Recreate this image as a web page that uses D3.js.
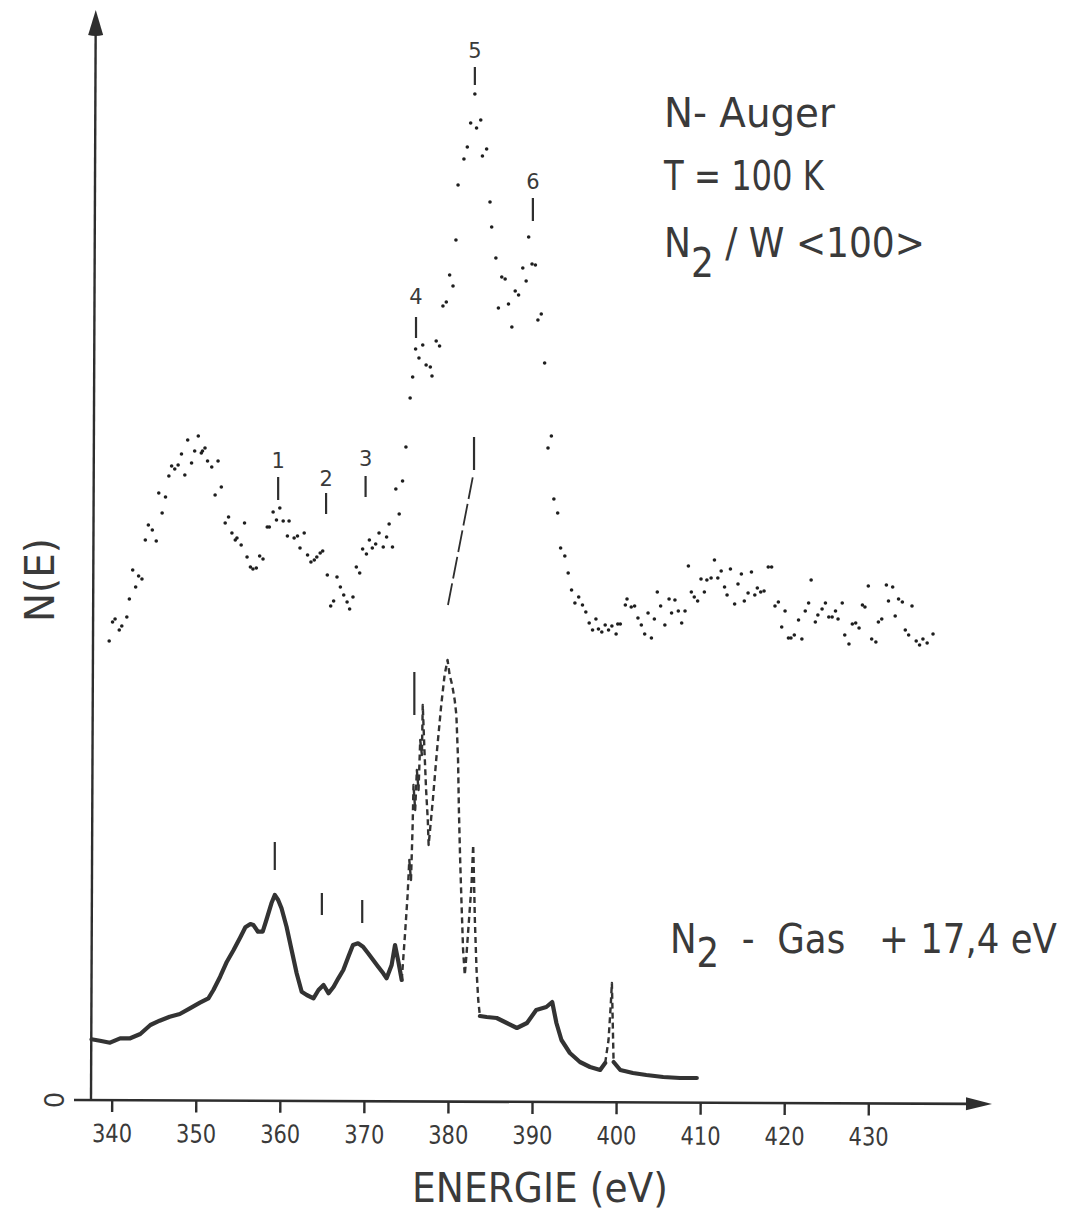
<!DOCTYPE html>
<html><head><meta charset="utf-8">
<script src="https://cdn.jsdelivr.net/npm/d3@7"></script>
<style>body{margin:0;background:#fff}svg{display:block}text{white-space:pre}</style>
</head><body>
<svg id="c" width="1069" height="1212"></svg>
<script>
// ---------- data (energies in eV, N(E) in arbitrary units) ----------
const xTicks = [340, 350, 360, 370, 380, 390, 400, 410, 420, 430];

// N2 adsorbed on W<100>, T = 100 K (dotted spectrum)
const upperE = [339.7,340.1,340.4,340.9,341.2,341.8,342.1,342.5,342.85,343.2,343.6,344.0,344.36,344.83,345.3,345.6,346.0,346.4,346.8,347.13,347.5,347.9,348.3,348.7,349.04,349.5,349.87,350.3,350.66,350.8,351.1,351.4,351.9,352.3,352.65,353.04,353.5,353.9,354.3,354.7,354.9,355.4,355.8,356.1,356.5,356.8,357.2,357.6,358.0,358.5,358.75,359.2,359.6,360.0,360.4,360.9,361.1,361.7,362.1,362.4,362.9,363.3,363.7,364.1,364.4,364.8,365.1,365.65,366.05,366.4,366.8,367.2,367.6,368.0,368.3,368.7,369.1,369.5,369.85,370.3,370.65,371.0,371.4,371.8,372.3,372.7,373.0,373.4,373.8,374.2,374.6,375.0,
375.5,375.8,376.15,376.55,377.0,377.4,377.9,378.1,378.6,379.0,379.4,379.8,380.2,380.6,380.95,381.2,381.9,382.3,382.7,383.2,383.4,383.9,384.1,384.6,385.0,385.2,385.7,386.0,386.4,386.8,387.2,387.6,388.0,388.4,388.9,389.3,389.6,390.0,390.4,390.7,391.1,391.5,
391.9,392.3,392.6,393.05,393.4,393.9,394.3,394.7,395.1,395.55,396.0,396.4,396.8,397.2,397.6,397.9,398.3,398.7,399.1,399.5,400.0,400.2,400.5,401.1,401.3,401.8,402.2,402.6,403.0,403.4,403.8,404.2,404.55,404.9,405.3,405.8,406.3,406.6,407.0,407.4,407.8,408.2,408.6,408.95,409.3,409.7,410.1,410.5,410.8,411.3,411.7,412.1,412.5,412.9,413.2,413.6,414.1,414.5,414.9,415.25,415.7,416.1,416.5,416.8,417.2,417.6,418.1,418.5,418.9,419.3,419.7,420.1,420.5,420.8,421.2,421.7,422.1,422.5,422.9,423.2,423.7,424.0,424.5,424.9,425.3,425.7,426.1,426.4,426.9,427.2,427.7,428.1,428.5,428.9,429.3,429.6,430.0,430.4,430.9,431.2,431.6,432.15,432.4,432.9,433.2,433.6,434.05,434.4,434.8,435.2,435.7,436.1,436.5,437.0,437.7];
const upperV = [45.9,47.8,48.1,47.0,47.4,48.3,50.1,53.0,51.3,52.4,52.1,56.0,57.5,57.0,55.9,60.7,58.7,60.3,62.4,63.4,63.1,63.5,64.6,62.5,66.0,63.7,64.9,66.4,64.7,64.9,65.2,63.9,63.3,60.5,63.9,61.3,57.7,58.3,56.7,56.0,56.2,55.5,57.7,54.3,53.3,53.1,53.2,54.4,54.1,57.3,57.3,58.8,58.0,59.2,57.9,56.4,57.9,56.2,56.4,55.2,56.7,54.5,53.8,54.0,54.3,54.7,54.9,52.5,49.4,49.9,52.3,51.3,50.5,49.8,49.1,50.3,53.3,52.7,55.1,54.6,56.0,55.2,55.6,56.7,55.3,56.3,57.6,55.3,61.1,58.6,61.9,65.3,
70.2,72.3,75.1,74.2,75.5,73.5,73.3,72.4,75.9,75.4,79.4,79.8,82.5,81.4,86.0,91.5,94.1,95.3,97.7,100.6,97.2,98.0,94.4,95.1,89.8,87.3,84.2,79.2,82.3,82.1,79.6,77.3,80.9,80.5,83.2,81.9,86.3,83.6,83.5,78.0,78.6,73.7,
65.2,66.4,60.1,58.7,55.2,54.4,52.7,51.0,49.7,50.3,49.5,48.8,47.7,47.0,48.1,47.1,46.8,47.5,47.0,47.4,46.6,47.6,47.6,49.5,50.1,49.3,49.4,48.2,47.5,46.6,48.7,46.2,48.1,50.8,49.4,47.5,50.1,48.7,50.0,48.9,47.7,48.9,53.4,50.8,50.3,49.9,52.1,50.8,52.0,52.2,54.0,52.2,52.9,51.3,50.5,53.1,49.6,51.6,52.6,49.9,50.7,52.8,50.5,51.2,50.8,50.9,53.3,53.3,49.4,49.8,47.3,48.9,46.2,46.2,46.5,48.0,46.1,48.9,49.7,52.0,47.8,48.5,49.1,49.7,48.3,48.3,48.9,48.1,49.7,46.5,45.6,47.6,47.7,47.2,49.5,49.3,51.4,46.1,45.8,47.8,48.1,51.5,49.9,51.3,48.4,50.1,49.8,47.0,46.5,49.4,45.9,45.5,46.1,45.7,46.6];

// N2 gas phase spectrum, shifted by +17.4 eV (continuous trace)
const gasE = [337.6,338.6,339.8,341.0,342.2,343.4,344.6,345.7,346.9,348.1,349.3,350.5,351.5,352.1,352.9,353.7,354.5,355.3,355.9,356.5,356.85,357.4,357.96,358.4,359.0,359.4,359.8,360.2,360.8,361.4,362.0,362.6,363.2,364.0,364.6,365.2,365.8,366.4,366.96,367.55,368.15,368.7,369.3,369.9,370.5,371.1,371.7,372.3,372.7,373.3,373.7,374.1,374.5,
374.9,375.2,375.4,375.6,375.8,375.9,376.1,376.3,376.5,376.7,376.9,377.0,377.2,377.4,377.6,377.7,378.2,378.7,379.2,379.6,379.95,380.2,380.5,380.8,381.0,381.2,381.3,381.45,381.6,381.8,382.0,382.2,382.5,382.8,383.0,383.1,383.2,383.4,383.6,383.8,
384.6,385.8,387.0,388.2,389.4,390.5,391.7,392.4,392.9,393.5,394.5,395.7,396.9,398.1,398.7,399.1,399.35,399.5,399.7,400.5,402.0,403.6,405.6,407.6,409.6];
const gasV = [6.07,5.93,5.73,6.17,6.17,6.6,7.5,7.93,8.33,8.6,9.17,9.73,10.17,11.0,12.33,13.83,15.0,16.27,17.27,17.6,17.5,16.83,16.83,18.0,19.67,20.5,20.0,19.17,17.33,15.0,12.67,10.83,10.5,10.17,11.0,11.5,10.67,11.33,12.17,13.0,14.33,15.5,15.67,15.33,14.67,14.0,13.33,12.67,12.17,13.5,15.5,13.83,12.0,
16.7,20.5,24.0,22.0,27.5,31.5,29.0,33.0,31.0,36.0,34.5,39.5,35.0,31.0,28.0,25.5,30.0,35.0,39.5,42.5,44.0,42.5,41.5,40.0,38.5,34.0,29.0,24.0,20.0,15.0,12.5,14.5,18.0,21.5,25.5,22.0,18.0,13.0,10.0,8.4,
8.3,8.2,7.7,7.2,7.7,9.0,9.3,9.8,7.7,6.0,4.7,3.8,3.3,3.0,3.7,6.0,9.3,11.7,3.8,3.0,2.7,2.5,2.3,2.2,2.2];
const gasDashed = [[374.5, 383.8], [398.7, 399.7]];

// peak markers on the adsorbate spectrum
const peakNames = ["1", "2", "3", "4", "5", "6"];
const peakE = [359.8, 365.5, 370.2, 376.2, 383.2, 390.1];
const peakTickLow = [60.0, 58.6, 60.3, 76.2, 101.5, 87.9];
const peakTickHigh = [62.3, 60.7, 62.4, 78.3, 103.3, 90.2];
const peakLabelV = [63.2, 61.4, 63.4, 79.6, 104.2, 91.1];

// markers on the gas spectrum
const gasMarkE = [359.4, 365.0, 369.8, 376.0];
const gasMarkLow = [23.0, 18.5, 17.7, 38.5];
const gasMarkHigh = [25.8, 20.7, 20.0, 42.8];

// connection gas main peak -> adsorbate main peak
const shiftE = [380.0, 383.0];
const shiftV = [49.5, 62.5];
const shiftTickE = 383.1, shiftTickV = [63.0, 66.3];

// ---------- drawing ----------
const INK = "#2e2e2e", TXT = "#3a3a3a";
const FONT = "'DejaVu Sans', 'Liberation Sans', sans-serif";
const svg = d3.select("#c");
svg.append("rect").attr("width", 1069).attr("height", 1212).attr("fill", "#fff");

const x = d3.scaleLinear().domain([340, 430]).range([111.7, 868.3]);
const y = d3.scaleLinear().domain([0, 109]).range([1100, 10]);
const x0 = 91, y0 = y(0);

// axes (scanned original is very slightly rotated)
const ax = svg.append("g").attr("transform", `rotate(0.25, ${x0}, ${y0})`);
const xAxis = d3.axisBottom(x).tickValues(xTicks).tickSize(12).tickSizeOuter(0).tickFormat(d3.format("d"));
const gx = ax.append("g").attr("transform", `translate(0,${y0})`).call(xAxis);
gx.select(".domain").remove();
gx.selectAll(".tick line").attr("stroke", INK).attr("stroke-width", 2.4);
gx.selectAll(".tick text")
  .attr("fill", TXT).attr("font-family", FONT).attr("font-size", 25)
  .attr("y", 42).attr("dy", 0).attr("text-anchor", "start").attr("x", -20)
  .attr("textLength", 40).attr("lengthAdjust", "spacingAndGlyphs");

ax.append("line").attr("x1", 74).attr("x2", 970).attr("y1", y0).attr("y2", y0)
  .attr("stroke", INK).attr("stroke-width", 2.6);
ax.append("path").attr("d", `M992,${y0} L966,${y0 - 6.5} L966,${y0 + 6.5} Z`).attr("fill", INK);
ax.append("line").attr("x1", x0).attr("x2", x0).attr("y1", y0).attr("y2", 32)
  .attr("stroke", INK).attr("stroke-width", 2.4);
ax.append("path").attr("d", `M${x0},10 L${x0 - 7.5},35 Q${x0},37 ${x0 + 7.5},35 Z`).attr("fill", INK);

// "0" at origin (rotated)
svg.append("text").attr("transform", `translate(55,${y0}) rotate(-90)`)
  .attr("text-anchor", "middle").attr("dy", "0.36em")
  .attr("font-family", FONT).attr("font-size", 26).attr("fill", TXT).text("0");

// axis titles
svg.append("text").attr("x", 412).attr("y", 1202)
  .attr("textLength", 256).attr("lengthAdjust", "spacingAndGlyphs")
  .attr("font-family", FONT).attr("font-size", 41).attr("fill", TXT).text("ENERGIE (eV)");
svg.append("text").attr("transform", "translate(54,622) rotate(-90)")
  .attr("textLength", 84).attr("lengthAdjust", "spacingAndGlyphs")
  .attr("font-family", FONT).attr("font-size", 40).attr("fill", TXT).text("N(E)");

// adsorbate dotted spectrum
svg.append("g").selectAll("circle").data(upperE.map((e, i) => [e, upperV[i]]))
  .join("circle").attr("cx", d => x(d[0])).attr("cy", d => y(d[1]))
  .attr("r", 1.8).attr("fill", "#1e1e1e");

// gas spectrum: solid / dashed segments
const gasPts = gasE.map((e, i) => [e, gasV[i]]);
const line = d3.line().x(d => x(d[0])).y(d => y(d[1]));
const bounds = [gasE[0]];
gasDashed.forEach(r => bounds.push(r[0], r[1]));
bounds.push(gasE[gasE.length - 1]);
for (let k = 0; k < bounds.length - 1; k++) {
  const lo = bounds[k], hi = bounds[k + 1];
  const seg = gasPts.filter(p => p[0] >= lo - 1e-9 && p[0] <= hi + 1e-9);
  const dashed = k % 2 === 1;
  svg.append("path").datum(seg).attr("d", line).attr("fill", "none")
    .attr("stroke", "#333").attr("stroke-width", dashed ? 2.4 : 4.2)
    .attr("stroke-linejoin", "round").attr("stroke-linecap", dashed ? "butt" : "round")
    .attr("stroke-dasharray", dashed ? "6,4" : null);
}

// markers
const mk = svg.append("g").attr("stroke", INK).attr("stroke-width", 2.2);
peakE.forEach((e, i) => {
  mk.append("line").attr("x1", x(e)).attr("x2", x(e)).attr("y1", y(peakTickLow[i])).attr("y2", y(peakTickHigh[i]));
  svg.append("text").attr("x", x(e)).attr("y", y(peakLabelV[i])).attr("text-anchor", "middle")
    .attr("font-family", FONT).attr("font-size", 21).attr("fill", TXT).text(peakNames[i]);
});
gasMarkE.forEach((e, i) => {
  mk.append("line").attr("x1", x(e)).attr("x2", x(e)).attr("y1", y(gasMarkLow[i])).attr("y2", y(gasMarkHigh[i]));
});
mk.append("line").attr("x1", x(shiftTickE)).attr("x2", x(shiftTickE)).attr("y1", y(shiftTickV[0])).attr("y2", y(shiftTickV[1]));
mk.append("line").attr("x1", x(shiftE[0])).attr("y1", y(shiftV[0])).attr("x2", x(shiftE[1])).attr("y2", y(shiftV[1]))
  .attr("stroke-dasharray", "22,5").attr("stroke-width", 1.8);

// text blocks: one text element per line, condensed horizontally to the reference width
function textLine(x1, x2, baseline, parts) {
  const t = svg.append("text").attr("x", 0).attr("y", 0)
    .attr("font-family", FONT).attr("font-size", 41).attr("fill", TXT);
  let shift = 0;
  parts.forEach(p => {
    const s = p[1] || 0;
    t.append("tspan").attr("dy", s - shift).text(p[0]);
    shift = s;
  });
  const w = t.node().getComputedTextLength();
  t.attr("transform", `translate(${x1},${baseline}) scale(${(x2 - x1) / w},1)`);
}
textLine(664, 835, 127, [["N- Auger"]]);
textLine(664, 824, 190, [["T = 100 K"]]);
textLine(664, 925, 257, [["N"], ["2", 20], [" / W <100>", 0]]);
textLine(670, 1057, 953, [["N"], ["2", 14], ["  -  Gas   + 17,4 eV", 0]]);
</script>
</body></html>
